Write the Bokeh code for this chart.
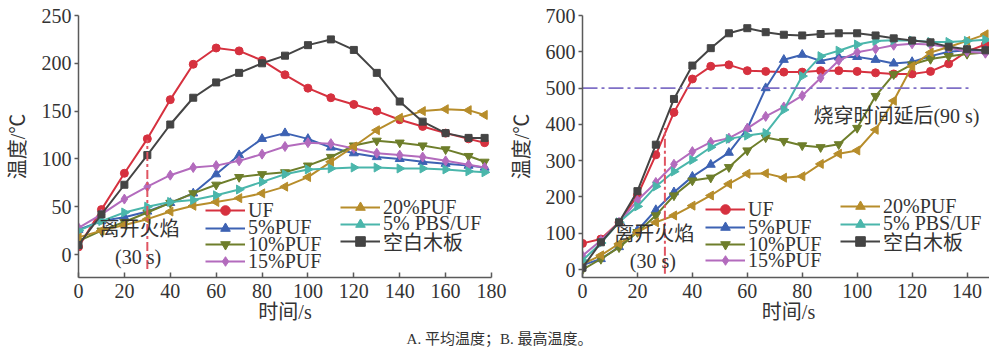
import numpy as np
from bokeh.plotting import figure
from bokeh.models import Range1d, FixedTicker, Legend, LegendItem, Label
from bokeh.layouts import row, column
from bokeh.embed import file_html
from bokeh.resources import INLINE
from bokeh.core.properties import value

# ---------------- data ----------------
series_names = ["UF", "5%PUF", "10%PUF", "15%PUF", "20%PUF", "5% PBS/UF", "空白木板"]

# A. average temperature (time in s)
t_avg = [0, 10, 20, 30, 40, 50, 60, 70, 80, 90, 100, 110, 120, 130, 140, 150, 160, 170, 177]
avg_uf = [8, 47, 85, 121, 162, 199, 216, 213, 203, 188, 174, 164, 157, 150, 141, 134, 127, 121, 117]
avg_puf5 = [26, 35, 39, 45, 54, 64, 84, 104, 121, 127, 121, 112, 106, 102, 100, 97, 95, 93, 91]
avg_puf10 = [14, 25, 34, 44, 54, 64, 73, 81, 84, 86, 93, 102, 114, 119, 117, 114, 110, 103, 97]
avg_puf15 = [28, 42, 58, 71, 83, 91, 93, 98, 105, 113, 117, 116, 111, 106, 104, 102, 98, 94, 91]
avg_puf20 = [18, 25, 31, 37, 45, 51, 55, 59, 64, 71, 81, 97, 113, 130, 143, 150, 152, 151, 146]
avg_pbs = [25, 35, 44, 50, 55, 57, 62, 68, 76, 84, 89, 90, 91, 91, 90, 90, 89, 87, 86]
avg_blank = [10, 42, 73, 104, 136, 164, 180, 190, 200, 208, 219, 225, 214, 190, 160, 139, 127, 122, 122]

# B. maximum temperature (time in s)
t_max = [0, 6.7, 13.3, 20, 26.7, 33.3, 40, 46.7, 53.3, 60, 66.7, 73.3, 80, 86.7, 93.3,
         100, 106.7, 113.3, 120, 126.7, 133.3, 140, 146.7]
max_uf = [72, 84, 130, 204, 316, 433, 525, 560, 564, 548, 546, 544, 544, 548, 548,
          546, 542, 539, 539, 546, 567, 601, 620]
max_puf5 = [12, 29, 62, 108, 164, 213, 256, 289, 322, 388, 500, 578, 592, 575, 585,
            586, 578, 568, 572, 588, 600, 604, 603]
max_puf10 = [0, 29, 61, 103, 149, 204, 245, 253, 282, 328, 364, 354, 342, 337, 345,
             390, 478, 538, 565, 580, 588, 594, 598]
max_puf15 = [38, 80, 130, 190, 240, 290, 325, 351, 362, 389, 422, 448, 479, 528, 576,
             599, 608, 618, 622, 620, 612, 600, 596]
max_puf20 = [15, 39, 71, 103, 130, 149, 176, 204, 236, 264, 265, 253, 257, 291, 319,
             328, 385, 465, 560, 598, 613, 630, 648]
max_pbs = [25, 73, 130, 174, 229, 270, 302, 337, 360, 369, 376, 440, 533, 588, 603,
           620, 630, 632, 631, 627, 627, 630, 633]
max_blank = [5, 75, 130, 216, 344, 470, 562, 610, 651, 665, 654, 647, 645, 649, 651,
             651, 645, 637, 631, 626, 614, 607, 604]

# reference lines
flame_out_avg_x = [30, 30]
flame_out_avg_y = [-15, 120]
flame_out_max_x = [30, 30]
flame_out_max_y = [-12, 390]
burn_line_x = [0, 142]
burn_line_y = [500, 500]

avg_ticks_x = [0, 20, 40, 60, 80, 100, 120, 140, 160, 180]
avg_ticks_y = [0, 50, 100, 150, 200, 250]
max_ticks_x = [0, 20, 40, 60, 80, 100, 120, 140]
max_ticks_y = [0, 100, 200, 300, 400, 500, 600, 700]

caption = "A. 平均温度；B. 最高温度。"

# ---------------- styles ----------------
colors = ["#d6313f", "#3d62b3", "#6e7e2b", "#b36bbd", "#b78d2b", "#4ab6ab", "#444444"]
markers = ["circle", "triangle", "inverted_triangle", "diamond", "triangle", "triangle", "square"]
angles = [0, 0, 0, 0, np.pi / 2, -np.pi / 2, 0]
sizes = [8, 9, 9, 10, 9, 9, 7]

SERIF = "Liberation Serif, Noto Sans CJK SC"
TXT = "#333333"
AX = "#5a5a5a"


def make_panel(t, ys, xr, yr, xt, yt, fw, mbl, mbr, legend_pos):
    p = figure(frame_width=fw, frame_height=262, x_range=Range1d(*xr), y_range=Range1d(*yr),
               output_backend="svg", toolbar_location=None,
               min_border_left=mbl, min_border_right=mbr, min_border_top=15, min_border_bottom=52)
    p.outline_line_color = None
    p.grid.visible = False
    p.background_fill_color = "white"
    p.border_fill_color = "white"
    for ax in (p.xaxis[0], p.yaxis[0]):
        ax.axis_line_color = AX
        ax.axis_line_width = 1.5
        ax.major_tick_line_color = AX
        ax.major_tick_line_width = 1.5
        ax.minor_tick_line_color = None
        ax.major_label_text_font = SERIF
        ax.major_label_text_font_size = "20px"
        ax.major_label_text_color = TXT
        ax.axis_label_text_font = SERIF
        ax.axis_label_text_font_size = "20px"
        ax.axis_label_text_font_style = "normal"
        ax.axis_label_text_color = TXT
    p.xaxis.ticker = FixedTicker(ticks=xt)
    p.yaxis.ticker = FixedTicker(ticks=yt)
    p.xaxis.major_tick_in = 5
    p.xaxis.major_tick_out = 0
    p.yaxis.major_tick_in = 0
    p.yaxis.major_tick_out = 4
    p.xaxis.major_label_standoff = 6
    p.yaxis.major_label_standoff = 3
    p.xaxis.axis_label = "时间/s"
    p.yaxis.axis_label = "温度/℃"
    p.xaxis.axis_label_standoff = 0
    p.yaxis.axis_label_standoff = 10

    items = []
    for i, y in enumerate(ys):
        lr = p.line(t, y, line_color=colors[i], line_width=2)
        sr = p.scatter(t, y, marker=markers[i], angle=angles[i], size=sizes[i],
                       fill_color=colors[i], line_color=colors[i])
        items.append(LegendItem(label=series_names[i], renderers=[lr, sr]))
    for item, (vx, vy) in zip(items, legend_pos):
        leg = Legend(items=[item], location=(vx, vy), padding=0, margin=0, spacing=0,
                     glyph_width=40, glyph_height=24, label_height=24, label_standoff=3,
                     label_text_font=SERIF, label_text_font_size="20px", label_text_color=TXT,
                     background_fill_alpha=0, border_line_alpha=0)
        p.add_layout(leg)
    return p


legend_avg = [(127, 55), (127, 37.5), (127, 21), (127, 4), (262, 58), (262, 41.5), (262, 21.5)]
legend_max = [(123, 56), (123, 38), (123, 21), (123, 5), (258, 59), (258, 41.5), (258, 21.5)]

p1 = make_panel(t_avg, [avg_uf, avg_puf5, avg_puf10, avg_puf15, avg_puf20, avg_pbs, avg_blank],
                (0, 180), (-24, 250), avg_ticks_x, avg_ticks_y, 413, 78, 16, legend_avg)
p1.line(flame_out_avg_x, flame_out_avg_y, line_color="#e05562", line_width=2, line_dash="9 3 3 3")
p1.add_layout(Label(x=26.6, y=27, text="离开火焰", text_align="center", text_baseline="middle",
                    text_font=SERIF, text_font_size="20px", text_color=TXT))
p1.add_layout(Label(x=26, y=-2.5, text="(30 s)", text_align="center", text_baseline="middle",
                    text_font=SERIF, text_font_size="20px", text_color=TXT))

p2 = make_panel(t_max, [max_uf, max_puf5, max_puf10, max_puf15, max_puf20, max_pbs, max_blank],
                (0, 150), (-22, 700), max_ticks_x, max_ticks_y, 412, 70, 0, legend_max)
p2.line(flame_out_max_x, flame_out_max_y, line_color="#e05562", line_width=2, line_dash="9 3 3 3")
p2.line(burn_line_x, burn_line_y, line_color="#7f6fc6", line_width=1.8, line_dash="15 4 3 4")
p2.add_layout(Label(x=26.1, y=98, text="离开火焰", text_align="center", text_baseline="middle",
                    text_font=SERIF, text_font_size="20px", text_color=TXT))
p2.add_layout(Label(x=25.6, y=23, text="(30 s)", text_align="center", text_baseline="middle",
                    text_font=SERIF, text_font_size="20px", text_color=TXT))
p2.add_layout(Label(x=114.3, y=424, text="烧穿时间延后(90 s)", text_align="center",
                    text_baseline="middle", text_font=SERIF, text_font_size="20px", text_color=TXT))

cap = figure(width=989, height=19, x_range=Range1d(0, 989), y_range=Range1d(0, 19),
             output_backend="svg", toolbar_location=None, x_axis_location=None,
             y_axis_location=None, min_border=0)
cap.outline_line_color = None
cap.grid.visible = False
cap.text(x=[499], y=[10], text=[caption], text_align="center", text_baseline="middle",
         text_font=value(SERIF), text_font_size="15px", text_color=TXT)

layout = column(row(p1, p2, spacing=0), cap, spacing=0)
open("out.html", "w").write(file_html(layout, INLINE))
